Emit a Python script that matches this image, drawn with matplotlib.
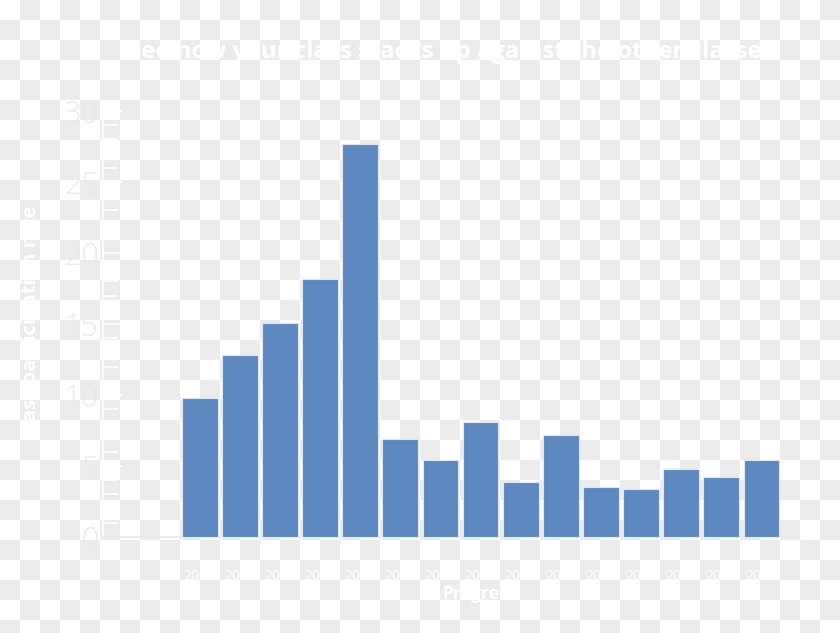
import matplotlib
matplotlib.use('Agg')
import matplotlib.pyplot as plt
import numpy as np

# ---- data ----
years = ['2000', '2001', '2002', '2003', '2004', '2005', '2006', '2007',
         '2008', '2009', '2010', '2011', '2012', '2013', '2014']
values = [9.8, 12.8, 15.1, 18.2, 27.7, 6.9, 5.4, 8.1, 3.9, 7.2, 3.5, 3.4, 4.8, 4.25, 5.4]
y_ticks = [0, 5, 10, 15, 20, 25, 30]
title = 'See how your class stacks up against the other classes!'
xlabel = 'Progress'
ylabel = 'Class participation rate'

plt.rcParams['font.family'] = ['Open Sans', 'DejaVu Sans']

W, H = 840, 633
fig = plt.figure(figsize=(W / 100, H / 100), dpi=100, facecolor='white')

# transparent-style checkerboard background
bg = fig.add_axes([0, 0, 1, 1], zorder=-5)
yy, xx = np.mgrid[0:H, 0:W]
chk = ((xx // 20 + yy // 20) % 2).astype(float)
bg.imshow(chk, cmap='gray_r', vmin=0, vmax=1 / 0.075, interpolation='nearest',
          aspect='auto', extent=(0, W, H, 0))
bg.set_axis_off()

ax = fig.add_axes([103 / W, 96 / H, 697 / W, 426 / H], zorder=1)
ax.patch.set_alpha(0)

x = np.arange(len(values))
ax.bar(x, values, width=0.89, color='#5d88c0', edgecolor='#dde6f2',
       linewidth=0.8, zorder=3)
ax.set_xlim(-2.41, 14.96)
ax.set_ylim(0, 30)

for s in ['top', 'right']:
    ax.spines[s].set_visible(False)
ax.spines['left'].set_color('white')
ax.spines['left'].set_linewidth(1.2)
ax.spines['bottom'].set_color('#e9e9e9')
ax.spines['bottom'].set_linewidth(1.2)

ax.set_yticks(y_ticks)
ax.set_yticks(np.arange(0, 31, 1), minor=True)
ax.tick_params(axis='y', which='major', direction='in', length=14, width=1.2,
               color='white', labelsize=22, labelcolor='#e9e9e9', pad=3)
ax.tick_params(axis='y', which='minor', direction='in', length=11, width=1.2,
               color='white')
for lab in ax.get_yticklabels():
    lab.set_fontweight('light')

ax.set_xticks(x, years)
ax.tick_params(axis='x', length=0, labelsize=10, labelcolor='white', pad=23)

fig.text(454 / W, 1 - 52 / H, title, ha='center', va='center',
         fontsize=17.2, fontweight='bold', color='white', zorder=5)
fig.text(479 / W, 1 - 594 / H, xlabel, ha='center', va='center',
         fontsize=12.5, fontweight='bold', color='white', zorder=5)
fig.text(31 / W, 1 - 323 / H, ylabel, ha='center', va='center', rotation=90,
         fontsize=14.5, fontweight='bold', color='white', zorder=5)

fig.savefig('out.png', dpi=100, facecolor='white')
